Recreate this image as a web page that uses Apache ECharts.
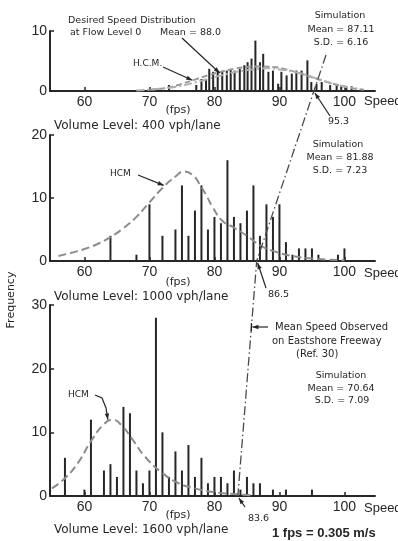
<!DOCTYPE html>
<html>
<head>
<meta charset="utf-8">
<script src="https://cdn.jsdelivr.net/npm/echarts@6/dist/echarts.min.js"></script>
<style>
	html, body { margin: 0; padding: 0; background: #fff; }
	#chart { width: 398px; height: 541px; }
</style>
</head>
<body>
<div id="chart"></div>
<script>
// speeds in fps, frequencies
var topSpeeds = [73.0, 77.2, 78.0, 78.7, 79.2, 79.8, 80.5, 81.2, 81.9, 82.5, 83.1, 83.9, 84.6, 85.1, 85.7, 86.3, 87.0, 87.5, 88.3, 89.0, 89.8, 90.3, 91.1, 91.9, 92.6, 93.4, 94.3, 94.9, 95.7, 96.5, 97.8, 98.8, 99.5, 100.3, 101.1];
var topFreq = [1, 1, 2, 2, 3.7, 3.2, 3.4, 3.2, 3.4, 3.7, 3.4, 3.7, 4.3, 4.8, 5.4, 8.4, 4.8, 6.2, 3.2, 3.4, 1.2, 3.2, 2.6, 2.9, 3.4, 3.4, 5.1, 1.5, 1.2, 1.5, 1, 1, 0.8, 0.8, 0.8];
var topHcm = [[70, 0.2], [73, 0.6], [75, 1.2], [77, 1.9], [79, 2.6], [81, 3.2], [83, 3.7], [85, 4.0], [87, 4.1], [89, 4.0], [91, 3.6], [93, 3.0], [95, 2.3], [97, 1.6], [99, 1.0], [101, 0.5], [103, 0.2]];
var topDesired = [[68, 0.1], [72, 0.4], [75, 0.9], [78, 1.7], [81, 2.6], [84, 3.3], [87, 3.7], [88, 3.8], [90, 3.6], [93, 3.0], [96, 2.0], [99, 1.0], [102, 0.4]];

var midSpeeds = [64, 68, 70, 72, 74, 75, 76, 77, 78, 79, 80, 81, 82, 83, 84, 85, 86, 87, 88, 89, 90, 91, 92, 93, 94, 95, 96, 99, 100];
var midFreq = [4, 1, 9, 4, 5, 12, 4, 8, 12, 5, 7, 6, 16, 7, 6, 8, 12, 4, 9, 7, 9, 3, 1, 2, 2, 2, 1, 1, 2];
var midHcm = [[56, 0.8], [58, 1.3], [60, 1.9], [62, 2.7], [64, 3.8], [66, 5.2], [68, 7.0], [70, 9.3], [72, 11.6], [74, 13.4], [75.3, 14.2], [76.7, 13.6], [77.7, 12.2], [78.7, 10.5], [79.7, 8.6], [81.2, 6.4], [83, 5.3], [85, 4.0], [87, 2.5], [89, 1.6], [92, 0.8], [95, 0.4], [100, 0.1]];

var botSpeeds = [57, 60, 61, 63, 64, 65, 66, 67, 68, 69, 70, 71, 72, 73, 74, 75, 76, 77, 78, 79, 80, 81, 82, 83, 84, 85, 86, 87, 89, 91, 95];
var botFreq = [6, 1, 12, 4, 5, 3, 14, 13, 4, 2, 4, 28, 10, 3, 7, 4, 8, 3, 6, 2, 3, 3, 2, 4, 1, 3, 2, 2, 1, 1, 1];
var botHcm = [[55, 1.2], [57, 2.8], [59, 5.2], [61, 8.6], [63, 11.3], [64.3, 12], [65.8, 11], [67.3, 9], [69.3, 6.2], [72, 3.6], [74.5, 2], [77, 1.2], [80, 0.6], [83, 0.3], [86, 0.1]];

// mean speed observed on Eastshore Freeway, one per volume level
var observedMeans = [95.3, 86.5, 83.6];

var xTicks = [60, 70, 80, 90, 100];
var yMax = [10, 20, 30];

var ink = '#262626';
var curveGray = '#8c8c8c';
var labelFont = 'Liberation Sans';
var noteFont = 'DejaVu Sans';

function pairs(xs, ys) {
	return xs.map(function(x, i) { return [x, ys[i]]; });
}

var myChart = echarts.init(document.getElementById('chart'));

var grids = [
	{ left: 50, width: 325, top: 31, height: 60 },
	{ left: 50, width: 325, top: 135, height: 126 },
	{ left: 50, width: 325, top: 305, height: 191 }
];

var xAxes = [], yAxes = [];
for (var g = 0; g < 3; g++) {
	xAxes.push({
		type: 'value', gridIndex: g, min: 54.7, max: 104.7,
		axisLine: { show: true, lineStyle: { color: ink, width: 2 } },
		axisTick: { show: true, inside: true, length: 4, customValues: xTicks, lineStyle: { color: ink, width: 1.5 } },
		axisLabel: { customValues: xTicks, color: ink, fontSize: 14, fontFamily: labelFont, margin: 4 },
		splitLine: { show: false }
	});
	yAxes.push({
		type: 'value', gridIndex: g, min: 0, max: yMax[g], interval: 10,
		axisLine: { show: true, lineStyle: { color: ink, width: 2 } },
		axisTick: { show: true, inside: true, length: 4, lineStyle: { color: ink, width: 1.5 } },
		axisLabel: { color: ink, fontSize: 14, fontFamily: labelFont, margin: 3 },
		splitLine: { show: false }
	});
}

function bars(g, xs, ys) {
	return {
		type: 'bar', xAxisIndex: g, yAxisIndex: g, barWidth: 2,
		itemStyle: { color: ink },
		data: pairs(xs, ys), z: 2
	};
}
function curve(g, data, dash, color) {
	return {
		type: 'line', xAxisIndex: g, yAxisIndex: g, smooth: true, showSymbol: false,
		lineStyle: { color: color || curveGray, width: 2, type: dash || [8, 4] },
		data: data, z: 3
	};
}

option = {
	animation: false,
	grid: grids,
	xAxis: xAxes,
	yAxis: yAxes,
	series: [
		bars(0, topSpeeds, topFreq),
		curve(0, topHcm, [6, 3], '#9a9a9a'),
		curve(0, topDesired, [8, 3, 2, 3], '#b0b0b0'),
		bars(1, midSpeeds, midFreq),
		curve(1, midHcm),
		bars(2, botSpeeds, botFreq),
		curve(2, botHcm)
	]
};

myChart.setOption(option);

// annotations
function txt(x, y, s, size, align, font, weight) {
	return {
		type: 'text', x: x, y: y, z: 10,
		style: {
			text: s, fill: ink, align: align || 'left', verticalAlign: 'middle',
			font: (weight || 'normal') + ' ' + (size || 10) + 'px "' + (font || noteFont) + '"'
		}
	};
}
function arrow(pts) {
	var a = pts[pts.length - 2], b = pts[pts.length - 1];
	var dx = b[0] - a[0], dy = b[1] - a[1], len = Math.sqrt(dx * dx + dy * dy);
	var ux = dx / len, uy = dy / len, hl = 6, hw = 2.2;
	var bx = b[0] - ux * hl, by = b[1] - uy * hl;
	return [
		{ type: 'polyline', z: 10, shape: { points: pts }, style: { stroke: ink, lineWidth: 1.2, fill: null } },
		{ type: 'polygon', z: 10, shape: { points: [b, [bx - uy * hw, by + ux * hw], [bx + uy * hw, by - ux * hw]] }, style: { fill: ink } }
	];
}
function px(g, v) {
	return myChart.convertToPixel({ gridIndex: g }, v);
}

var p0 = px(0, [observedMeans[0], 0]);
var p1 = px(1, [observedMeans[1], 0]);
var p2 = px(2, [observedMeans[2], 0]);
// continue the first segment up above the top panel
var topY = px(0, [0, 6])[1];
var t = (p0[1] - topY) / (p1[1] - p0[1]);
var pTop = [p0[0] + (p0[0] - p1[0]) * t, topY];
// x of the observed line at the "Mean Speed Observed" arrow
var yArr = 327;
var xArr = p1[0] + (p2[0] - p1[0]) * (yArr - p1[1]) / (p2[1] - p1[1]);

var graphics = [
	{ type: 'polyline', z: 9, shape: { points: [pTop, p0, p1, p2] }, style: { stroke: '#4a4a4a', lineWidth: 1.3, lineDash: [9, 3, 1.5, 3], fill: null } },

	txt(68, 21, 'Desired Speed Distribution', 9.5),
	txt(70, 33, 'at Flow Level 0', 9.5),
	txt(160, 33, 'Mean = 88.0', 9.5),
	txt(133, 64, 'H.C.M.', 9),
	txt(340, 16, 'Simulation', 9.5, 'center'),
	txt(341, 30, 'Mean = 87.11', 9.5, 'center'),
	txt(341, 43, 'S.D. = 6.16', 9.5, 'center'),
	txt(178, 110, '(fps)', 11, 'center'),
	txt(54, 126, 'Volume Level: 400 vph/lane', 12),
	txt(364, 101, 'Speed', 13, 'left', labelFont),
	txt(328, 122, '95.3', 9.5),

	txt(110, 174, 'HCM', 9),
	txt(338, 145, 'Simulation', 9.5, 'center'),
	txt(340, 158, 'Mean = 81.88', 9.5, 'center'),
	txt(340, 171, 'S.D. = 7.23', 9.5, 'center'),
	txt(178, 282, '(fps)', 11, 'center'),
	txt(54, 297, 'Volume Level: 1000 vph/lane', 12),
	txt(364, 273, 'Speed', 13, 'left', labelFont),
	txt(268, 295, '86.5', 9.5),

	txt(275, 327, 'Mean Speed Observed', 10),
	txt(272, 341, 'on Eastshore Freeway', 10),
	txt(296, 354, '(Ref. 30)', 10),
	txt(341, 376, 'Simulation', 9.5, 'center'),
	txt(341, 389, 'Mean = 70.64', 9.5, 'center'),
	txt(342, 401, 'S.D. = 7.09', 9.5, 'center'),
	txt(68, 395, 'HCM', 9),
	txt(178, 515, '(fps)', 11, 'center'),
	txt(54, 530, 'Volume Level: 1600 vph/lane', 12),
	txt(364, 508, 'Speed', 13, 'left', labelFont),
	txt(248, 519, '83.6', 9.5),
	txt(272, 533, '1 fps = 0.305 m/s', 13, 'left', labelFont, 'bold'),

	{
		type: 'text', x: 11, y: 300, rotation: Math.PI / 2, z: 10,
		style: { text: 'Frequency', fill: ink, align: 'center', verticalAlign: 'middle', font: '11px "' + noteFont + '"' }
	},
	{ type: 'line', z: 10, shape: { x1: xArr, y1: yArr - 4, x2: xArr, y2: yArr + 4 }, style: { stroke: ink, lineWidth: 1.2 } }
];

graphics = graphics
	.concat(arrow([[182, 38], px(0, [80.8, 3.0])]))
	.concat(arrow([[163, 67], px(0, [76.6, 1.8])]))
	.concat(arrow([[330, 116], [p0[0] + 1, p0[1] + 2]]))
	.concat(arrow([[138, 175], px(1, [72.2, 12.0])]))
	.concat(arrow([[266, 288], [p1[0] + 1, p1[1] + 2]]))
	.concat(arrow([[268, yArr], [xArr + 1, yArr]]))
	.concat(arrow([[95, 395], [102, 398], [106, 408], px(2, [63.6, 12])]))
	.concat(arrow([[245, 507], [p2[0] + 1, p2[1] + 2]]));

myChart.setOption({ graphic: graphics });

window.addEventListener('resize', function() {
	myChart.resize();
});
</script>
</body>
</html>
